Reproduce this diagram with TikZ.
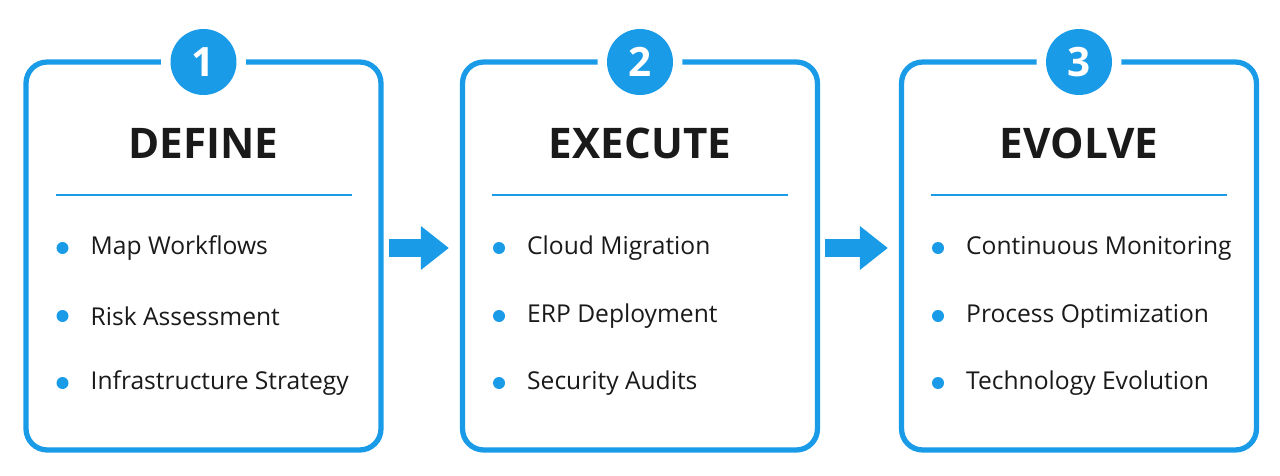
\documentclass[tikz,border=0pt]{standalone}
\usepackage{fontspec}
\setmainfont{Open Sans}
\usetikzlibrary{arrows.meta,positioning}
\definecolor{stepblue}{HTML}{1A9BE8}
\definecolor{ink}{HTML}{1A1A1A}
\tikzset{
  stepbox/.style={draw=stepblue,line width=3pt,rounded corners=12pt,fill=white,minimum width=7.1cm,minimum height=7.76cm,inner sep=0pt},
  stepnum/.style={circle,fill=stepblue,minimum size=1.32cm,inner sep=0pt,text=white,font=\fontsize{23}{23}\selectfont\bfseries},
  steptitle/.style={text=ink,font=\fontsize{24}{24}\selectfont\bfseries},
  stepitem/.style={anchor=west,text=ink,font=\fontsize{14}{15}\selectfont},
  stepdot/.style={circle,fill=stepblue,minimum size=0.24cm,inner sep=0pt},
  steparrow/.style={stepblue,line width=0.36cm,-{Triangle[length=0.56cm,width=0.84cm]}}
}
\begin{document}
\begin{tikzpicture}[x=0.02cm,y=-0.02cm]
\useasboundingbox (0,0) rectangle (1280,476);
% boxes with number, title, rule and bullet items
\foreach \i/\cx/\num/\title/\a/\b/\c in {
  1/203.5/1/DEFINE/Map Workflows/Risk Assessment/Infrastructure Strategy,
  2/640/2/EXECUTE/Cloud Migration/ERP Deployment/Security Audits,
  3/1079/3/EVOLVE/Continuous Monitoring/Process Optimization/Technology Evolution}{
  \node[stepbox] (box\i) at (\cx,256) {};
  \node[circle,fill=white,minimum size=1.7cm] at (\cx,62) {};
  \node[stepnum] (num\i) at (\cx,62) {\num};
  \node[steptitle] (title\i) at (\cx,143) {\title};
  \draw[stepblue,line width=1pt] (\cx-148,195) -- (\cx+148,195);
  \foreach \y/\t [count=\k] in {248/\a,316/\b,383/\c}{
    \node[stepdot] (dot\i\k) at (\cx-141,\y) {};
    \node[stepitem] (item\i\k) at (\cx-119,\y) {\t};
  }
}
% arrows between the steps
\draw[steparrow,shorten <=3pt,shorten >=0.22cm] (box1.east |- dot11) -- (box2.west |- dot21);
\draw[steparrow,shorten <=3pt,shorten >=0.22cm] (box2.east |- dot21) -- (box3.west |- dot31);
\end{tikzpicture}
\end{document}
